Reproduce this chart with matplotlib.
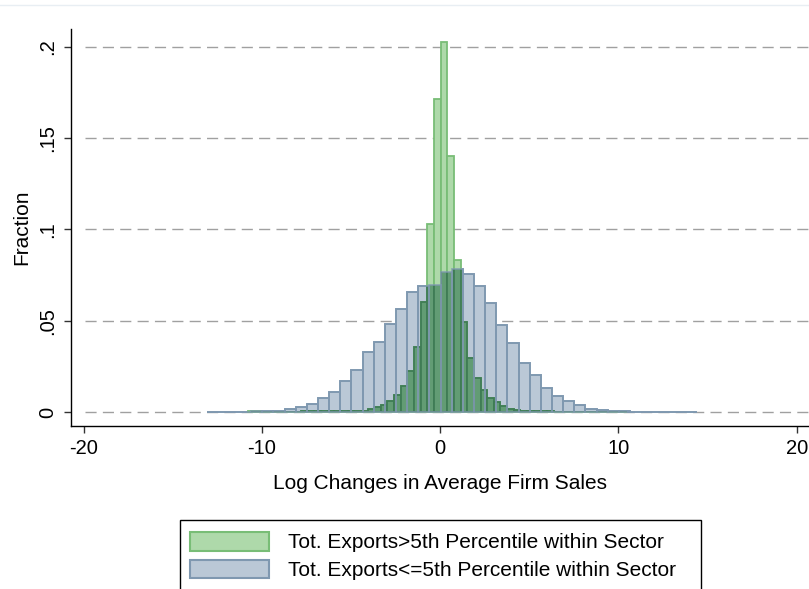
import matplotlib
matplotlib.use("Agg")
import matplotlib.pyplot as plt
import numpy as np
from matplotlib.patches import Patch, Rectangle
from matplotlib.path import Path
from matplotlib.lines import Line2D

# ---- data ----
# bins: start and width of each histogram, heights as fractions
green_start = -10.78
green_width = 0.3727
green_heights = [0.0003, 0.0003, 0.0002, 0.0002, 0.0002, 0.0002, 0.0002, 0.0002,
                 0.0003, 0.0003, 0.0003, 0.0003, 0.0004, 0.0004, 0.0005, 0.0006,
                 0.0007, 0.0008, 0.0015, 0.0026, 0.0037, 0.0061, 0.0091, 0.0140,
                 0.0223, 0.0358, 0.0600, 0.1029, 0.1714, 0.2030, 0.1403, 0.0833,
                 0.0495, 0.0296, 0.0189, 0.0120, 0.0078, 0.0054, 0.0033, 0.0018,
                 0.0011, 0.0007, 0.0005, 0.0004, 0.0003, 0.0003, 0.0002, 0.0002,
                 0.0002, 0.0002, 0.0002, 0.0001, 0.0001, 0.0001, 0.0001, 0.0001,
                 0.0001]

blue_start = -13.1
blue_width = 0.625
blue_heights = [0.0002, 0.0002, 0.0002, 0.0002, 0.0003, 0.0004, 0.0007, 0.0014,
                0.0025, 0.0046, 0.0079, 0.0110, 0.0170, 0.0232, 0.0329, 0.0384,
                0.0484, 0.0566, 0.0658, 0.0690, 0.0697, 0.0767, 0.0782, 0.0756,
                0.0692, 0.0599, 0.0478, 0.0378, 0.0268, 0.0203, 0.0134, 0.0090,
                0.0061, 0.0040, 0.0018, 0.0009, 0.0007, 0.0003, 0.0002, 0.0002,
                0.0002, 0.0001, 0.0000, 0.0001]

label_green = "Tot. Exports>5th Percentile within Sector"
label_blue = "Tot. Exports<=5th Percentile within Sector"
xlabel = "Log Changes in Average Firm Sales"
ylabel = "Fraction"
xticks = [-20, -10, 0, 10, 20]
yticks = [0, 0.05, 0.1, 0.15, 0.2]
yticklabels = ["0", ".05", ".1", ".15", ".2"]

# ---- style ----
plt.rcParams['font.family'] = ['Liberation Sans', 'DejaVu Sans']
G_FILL = '#aed9aa'
G_EDGE = '#78bd76'
B_FILL = '#bac8d6'
B_EDGE = '#7f98b0'
OV_FILL = '#629c74'
OV_EDGE = '#3f7c55'

fig = plt.figure(figsize=(8.09, 5.89), dpi=100)
W, H = 809, 589
ax = fig.add_axes([70.7 / W, 1 - 426 / H, (809.6 - 70.7) / W, (426 - 29) / H])
ax.set_xlim(-20.72, 20.72)
ax.set_ylim(-0.00767, 0.20986)

# grid lines
for yv in yticks:
    ax.axhline(yv, xmin=0.019, xmax=1, color='#a0a0a0', lw=1.0,
               dashes=(8, 4.5), zorder=0)

g_left = green_start + green_width * np.arange(len(green_heights))
b_left = blue_start + blue_width * np.arange(len(blue_heights))

# blue bars
ax.bar(b_left, blue_heights, width=blue_width, align='edge',
       color=B_FILL, edgecolor=B_EDGE, linewidth=1.3, zorder=2)
# green bars
ax.bar(g_left, green_heights, width=green_width, align='edge',
       color=G_FILL, edgecolor=G_EDGE, linewidth=1.3, zorder=3)

# overlap region (green over blue) drawn darker, clipped to blue bars
verts = []
codes = []
for x0, h in zip(b_left, blue_heights):
    verts += [(x0, 0), (x0 + blue_width, 0), (x0 + blue_width, h), (x0, h), (x0, 0)]
    codes += [Path.MOVETO, Path.LINETO, Path.LINETO, Path.LINETO, Path.CLOSEPOLY]
blue_path = Path(verts, codes)
ov = ax.bar(g_left, green_heights, width=green_width, align='edge',
            color=OV_FILL, edgecolor=OV_EDGE, linewidth=1.3, zorder=4)
for p in ov.patches:
    p.set_clip_path(blue_path, ax.transData)

# blue outlines on top
ax.bar(b_left, blue_heights, width=blue_width, align='edge',
       fill=False, edgecolor=B_EDGE, linewidth=1.3, alpha=0.75, zorder=5)

# axes styling
for s in ['top', 'right']:
    ax.spines[s].set_visible(False)
for s in ['left', 'bottom']:
    ax.spines[s].set_color('black')
    ax.spines[s].set_linewidth(1.0)
ax.set_xticks(xticks)
ax.set_xticklabels([str(v) for v in xticks])
ax.set_yticks(yticks)
ax.set_yticklabels(yticklabels, rotation=90, va='center')
ax.tick_params(axis='both', labelsize=14.5, length=5, width=1.0, color='#333333')
ax.tick_params(axis='x', pad=4)
ax.tick_params(axis='y', pad=5)
ax.set_xlabel(xlabel, fontsize=15, labelpad=12)
ax.set_ylabel(ylabel, fontsize=15, labelpad=5)

# legend (box cut off by the bottom edge, as in the reference)
handles = [Patch(facecolor=G_FILL, edgecolor=G_EDGE, lw=1.5, label=label_green),
           Patch(facecolor=B_FILL, edgecolor=B_EDGE, lw=1.5, label=label_blue)]
leg = fig.legend(handles=handles, loc='upper left',
                 bbox_to_anchor=(190 / W, 1 - 532 / H), fontsize=15,
                 frameon=False,
                 handlelength=3.8, handleheight=1.0, handletextpad=0.9,
                 labelspacing=0.35, borderpad=0.0, borderaxespad=0)
fig.add_artist(Rectangle((180 / W, -0.05), (701 - 180) / W, (589 - 520) / H + 0.05,
                         transform=fig.transFigure, fill=False,
                         edgecolor='black', lw=1.0))

# faint outer border line at top
fig.add_artist(Line2D([0, 1], [1 - 5 / H, 1 - 5 / H], transform=fig.transFigure,
                      color='#e8eef3', lw=1.0))

fig.savefig('out.png', dpi=100)
